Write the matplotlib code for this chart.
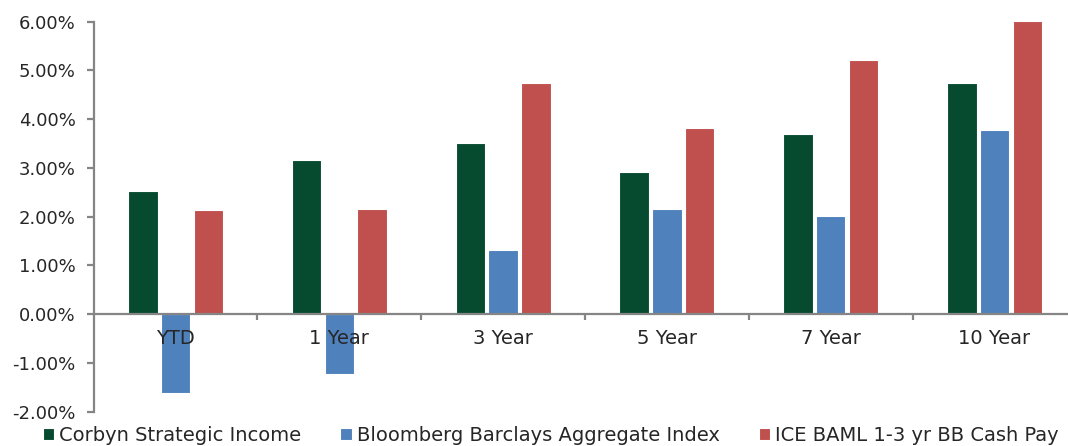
import numpy as np
import matplotlib
matplotlib.use('Agg')
import matplotlib.pyplot as plt
from matplotlib.ticker import FuncFormatter, FixedLocator

plt.rcParams['font.family'] = ['DejaVu Sans']

# data (percent)
periods = ['YTD', '1 Year', '3 Year', '5 Year', '7 Year', '10 Year']
corbyn = [2.53, 3.16, 3.52, 2.91, 3.69, 4.74]
bloomberg = [-1.61, -1.22, 1.31, 2.15, 2.01, 3.77]
ice_baml = [2.13, 2.15, 4.75, 3.81, 5.21, 6.01]
series_names = ['Corbyn Strategic Income', 'Bloomberg Barclays Aggregate Index',
                'ICE BAML 1-3 yr BB Cash Pay']
colors = ['#064B2F', '#4F81BD', '#C0504D']

fig = plt.figure(figsize=(10.68, 4.46), dpi=100)
ax = fig.add_axes([0.0877, 0.0769, 0.9202, 0.8744])

x = np.arange(len(periods))
w = 0.18
handles = []
for i, (vals, c) in enumerate(zip([corbyn, bloomberg, ice_baml], colors)):
    b = ax.bar(x + (i - 1) * 0.2, vals, width=w, color=c, edgecolor='white',
               linewidth=0.8, zorder=1)
    handles.append(b)

ax.set_xlim(-0.5, len(periods) - 0.5)
ax.set_ylim(-2, 6)
ax.set_yticks(np.arange(-2, 7, 1))
ax.yaxis.set_major_formatter(FuncFormatter(lambda v, p: '%.2f%%' % v))

# x axis sits on zero
ax.spines['top'].set_visible(False)
ax.spines['right'].set_visible(False)
ax.spines['bottom'].set_position(('data', 0))
for s in ['left', 'bottom']:
    ax.spines[s].set_color('#858585')
    ax.spines[s].set_linewidth(1.6)

ax.set_xticks(x)
ax.set_xticklabels(periods)
ax.xaxis.set_minor_locator(FixedLocator(np.arange(0.5, len(periods) - 0.5, 1)))
ax.tick_params(axis='x', which='major', length=0, pad=11, labelsize=14, labelcolor='#262626')
ax.tick_params(axis='x', which='minor', length=4.5, width=1.6, color='#858585', direction='out')
ax.tick_params(axis='y', length=5, width=1.6, color='#858585', pad=8, labelsize=13,
               labelcolor='#262626')

fig.legend(handles, series_names, ncol=3, loc='center left',
           bbox_to_anchor=(0.040, 0.024), frameon=False, fontsize=14,
           handlelength=0.6, handleheight=0.6, handletextpad=0.25,
           columnspacing=2.0, borderpad=0, borderaxespad=0, labelcolor='#262626')

fig.savefig('out.png', dpi=100)
